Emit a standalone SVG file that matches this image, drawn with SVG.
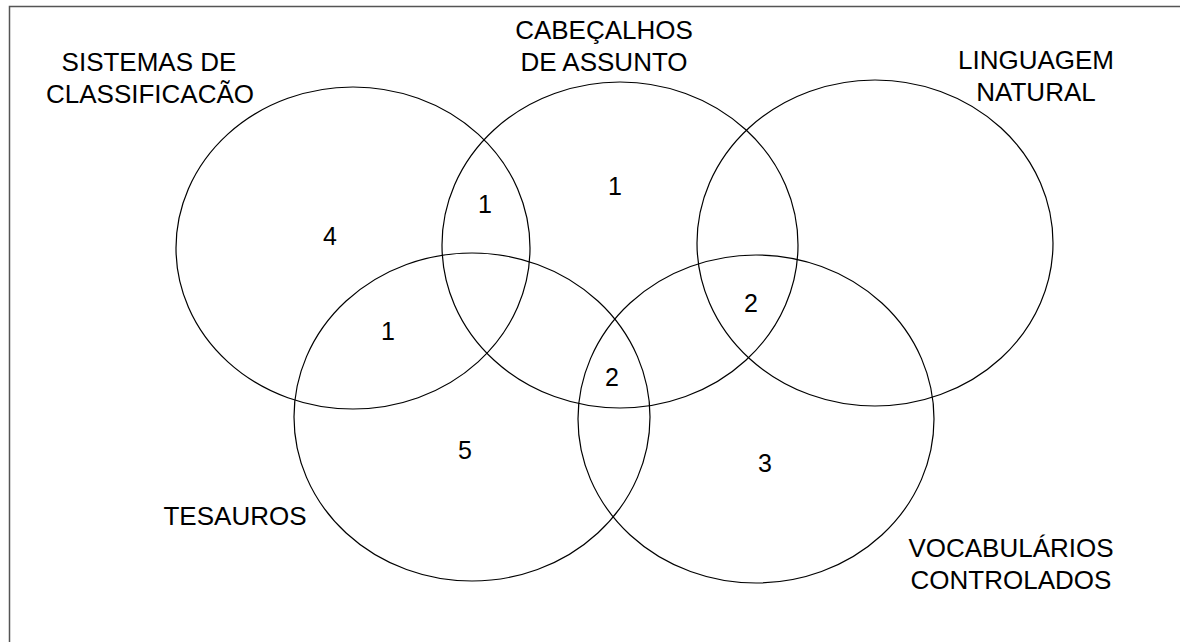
<svg xmlns="http://www.w3.org/2000/svg" width="1180" height="642" viewBox="0 0 1180 642">
<style>
.c{fill:none;stroke:#000;stroke-width:1.2}
text{font-family:"Liberation Sans",Arial,sans-serif;font-size:26px;fill:#000;text-anchor:middle}
.n{font-size:25px}
</style>
<rect width="1180" height="642" fill="#fff"/>
<path d="M9.5 642 V6.5 H1180" fill="none" stroke="#555" stroke-width="1.5"/>
<g id="sistemas"><ellipse class="c" cx="353" cy="248" rx="177" ry="161"/><text x="149" y="71">SISTEMAS DE</text><text x="150" y="103">CLASSIFICACÃO</text></g>
<g id="cabecalhos"><ellipse class="c" cx="620" cy="245" rx="178" ry="163"/><text x="604" y="39">CABEÇALHOS</text><text x="604" y="71">DE ASSUNTO</text></g>
<g id="linguagem"><ellipse class="c" cx="875" cy="243" rx="178" ry="163"/><text x="1036" y="69">LINGUAGEM</text><text x="1036" y="101">NATURAL</text></g>
<g id="tesauros"><ellipse class="c" cx="472" cy="417" rx="178" ry="164"/><text x="235" y="525">TESAUROS</text></g>
<g id="vocabularios"><ellipse class="c" cx="756" cy="419" rx="178" ry="164"/><text x="1011" y="557">VOCABULÁRIOS</text><text x="1011" y="589">CONTROLADOS</text></g>
<g id="numbers">
<text class="n" x="330" y="245">4</text>
<text class="n" x="485" y="213">1</text>
<text class="n" x="615" y="195">1</text>
<text class="n" x="388" y="340">1</text>
<text class="n" x="751" y="312">2</text>
<text class="n" x="612" y="386">2</text>
<text class="n" x="465" y="459">5</text>
<text class="n" x="765" y="472">3</text>
</g>
<g id="connectors"></g>
</svg>
